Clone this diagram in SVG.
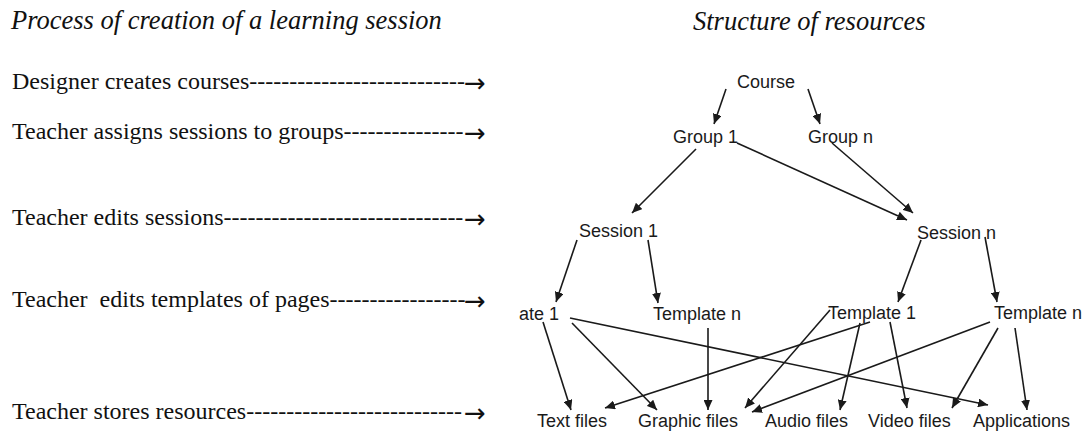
<svg xmlns="http://www.w3.org/2000/svg" width="1088" height="432" viewBox="0 0 1088 432">
<style>
.title{font-family:"Liberation Serif","Times New Roman",serif;font-style:italic;font-size:26.5px;fill:#111}
.step{font-family:"Liberation Serif","Times New Roman",serif;font-size:24px;fill:#111;white-space:pre}
.arr{font-family:"DejaVu Sans",sans-serif;font-size:26px}
.lbl{font-family:"Liberation Sans",Arial,sans-serif;font-size:18px;fill:#1a1a1a}
.conn{stroke:#1a1a1a;stroke-width:1.6;fill:none;marker-end:url(#ah)}
</style>
<defs>
<marker id="ah" markerUnits="userSpaceOnUse" markerWidth="11" markerHeight="9" refX="10" refY="4.5" orient="auto">
<path d="M0,0 L10,4.5 L0,9 z" fill="#1a1a1a"/>
</marker>
</defs>
<rect width="1088" height="432" fill="#fff"/>
<g id="titles">
<text class="title" x="11" y="29">Process of creation of a learning session</text>
<text class="title" x="693" y="30">Structure of resources</text>
</g>
<g id="steps">
<text class="step" x="12" y="89" xml:space="preserve">Designer creates courses---------------------------<tspan class="arr" x="464" dy="3">→</tspan></text>
<text class="step" x="12" y="139" xml:space="preserve">Teacher assigns sessions to groups---------------<tspan class="arr" x="464" dy="3">→</tspan></text>
<text class="step" x="12" y="225" xml:space="preserve">Teacher edits sessions------------------------------<tspan class="arr" x="464" dy="3">→</tspan></text>
<text class="step" x="12" y="307" xml:space="preserve">Teacher  edits templates of pages-----------------<tspan class="arr" x="464" dy="3">→</tspan></text>
<text class="step" x="12" y="419" xml:space="preserve">Teacher stores resources---------------------------<tspan class="arr" x="464" dy="3">→</tspan></text>
</g>
<g id="connectors">
<path class="conn" d="M726,89 L714,124"/>
<path class="conn" d="M808,89 L820,124"/>
<path class="conn" d="M696,149 L632,213"/>
<path class="conn" d="M737,143 L907,220"/>
<path class="conn" d="M832,143 L913,213"/>
<path class="conn" d="M577,240 L556,302"/>
<path class="conn" d="M648,240 L658,303"/>
<path class="conn" d="M921,240 L898,302"/>
<path class="conn" d="M985,237 L997,302"/>
<path class="conn" d="M543,322 L571,410"/>
<path class="conn" d="M572,323 L657,410"/>
<path class="conn" d="M570,318 L988,405"/>
<path class="conn" d="M708,328 L708,410"/>
<path class="conn" d="M870,322 L605,408"/>
<path class="conn" d="M830,310 L745,408"/>
<path class="conn" d="M860,323 L840,410"/>
<path class="conn" d="M890,322 L907,408"/>
<path class="conn" d="M990,322 L752,412"/>
<path class="conn" d="M998,328 L952,408"/>
<path class="conn" d="M1015,328 L1027,410"/>
</g>
<g id="course"><text class="lbl" x="737" y="88">Course</text></g>
<g id="group1"><text class="lbl" x="673" y="143">Group 1</text></g>
<g id="groupn"><text class="lbl" x="808" y="143">Group n</text></g>
<g id="session1"><text class="lbl" x="579" y="237">Session 1</text></g>
<g id="sessionn"><text class="lbl" x="917" y="239">Session n</text></g>
<g id="template1a"><text class="lbl" x="519" y="320">ate 1</text></g>
<g id="templatena"><text class="lbl" x="653" y="320">Template n</text></g>
<g id="template1b"><text class="lbl" x="828" y="319">Template 1</text></g>
<g id="templatenb"><text class="lbl" x="994" y="319">Template n</text></g>
<g id="textfiles"><text class="lbl" x="537" y="427">Text files</text></g>
<g id="graphicfiles"><text class="lbl" x="638" y="427">Graphic files</text></g>
<g id="audiofiles"><text class="lbl" x="765" y="427">Audio files</text></g>
<g id="videofiles"><text class="lbl" x="868" y="427">Video files</text></g>
<g id="applications"><text class="lbl" x="973" y="427">Applications</text></g>
</svg>
